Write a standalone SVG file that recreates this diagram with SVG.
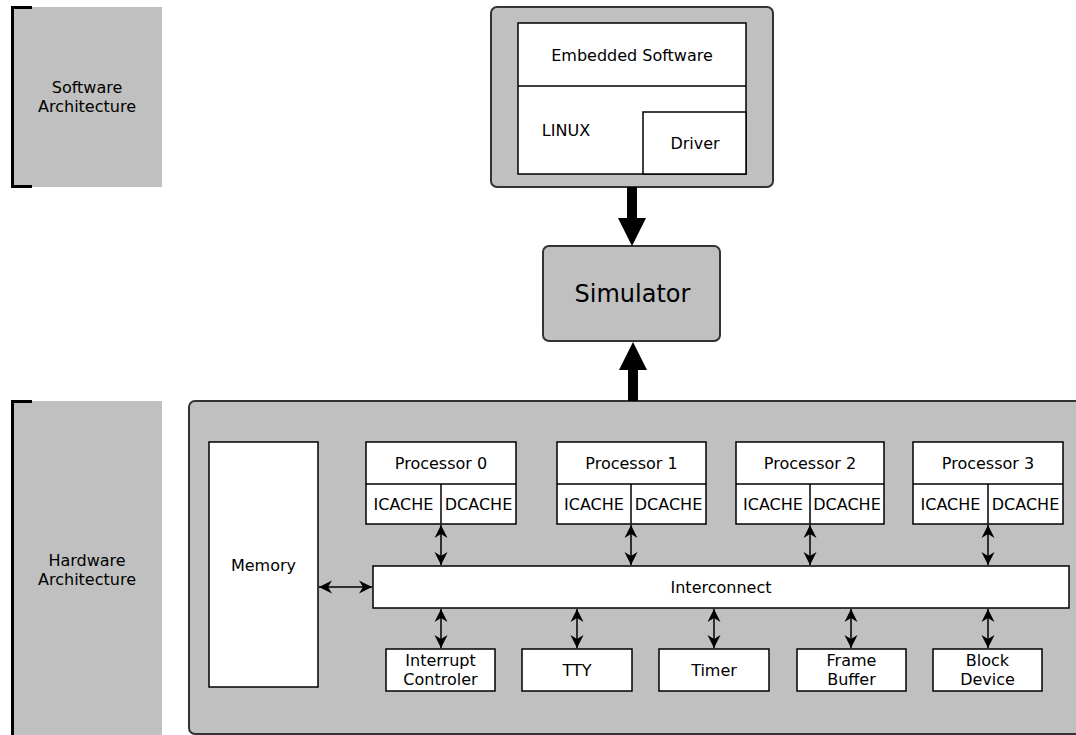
<svg xmlns="http://www.w3.org/2000/svg" width="1076" height="735" viewBox="0 0 1076 735">
<defs>
<style>
text{font-family:"DejaVu Sans","Liberation Sans",sans-serif;font-size:16px;fill:#000;text-anchor:middle}
.lbl{fill:#c0c0c0}
.bracket{fill:none;stroke:#000;stroke-width:3}
.outer{fill:#c0c0c0;stroke:#333;stroke-width:2}
.box{fill:#fff;stroke:#000;stroke-width:1.5}
.ln{fill:none;stroke:#000;stroke-width:1.5}
.conn{fill:none;stroke:#000;stroke-width:1.5;marker-start:url(#ah);marker-end:url(#ah)}
</style>
<marker id="ah" markerUnits="userSpaceOnUse" viewBox="-1 -8 16 16" refX="13" refY="0" markerWidth="16" markerHeight="16" orient="auto-start-reverse">
<path d="M0,-6.5 L13,0 L0,6.5 L4,0 Z" fill="#000"/>
</marker>
</defs>

<g id="sw-label">
<rect class="lbl" x="12" y="7" width="150" height="180"/>
<path class="bracket" d="M32,7.5 H12.5 V186.5 H32"/>
<text x="87" y="93">Software</text>
<text x="87" y="112">Architecture</text>
</g>

<g id="hw-label">
<rect class="lbl" x="12" y="401" width="150" height="340"/>
<path class="bracket" d="M32,401.5 H12.5 V740"/>
<text x="87" y="566">Hardware</text>
<text x="87" y="585">Architecture</text>
</g>

<g id="software">
<rect class="outer" x="491" y="7" width="282" height="180" rx="6"/>
<rect class="box" x="518" y="23" width="228" height="151"/>
<line class="ln" x1="518" y1="86" x2="746" y2="86"/>
<rect class="box" x="643" y="112" width="103" height="62"/>
<text x="632" y="61">Embedded Software</text>
<text x="566" y="136">LINUX</text>
<text x="695" y="149">Driver</text>
</g>

<g id="simulator">
<rect class="outer" x="543" y="246" width="177" height="95" rx="6"/>
<text x="632.5" y="302" style="font-size:24px">Simulator</text>
</g>

<g id="hardware">
<rect class="outer" x="189" y="401" width="900" height="333" rx="6"/>
</g>

<g id="memory">
<rect class="box" x="209" y="442" width="109" height="245"/>
<text x="263.5" y="571">Memory</text>
</g>

<g id="proc0">
<rect class="box" x="366" y="442" width="150" height="82"/>
<line class="ln" x1="366" y1="484" x2="516" y2="484"/>
<line class="ln" x1="441" y1="484" x2="441" y2="524"/>
<text x="441" y="469">Processor 0</text>
<text x="403.5" y="510">ICACHE</text>
<text x="478.5" y="510">DCACHE</text>
</g>
<g id="proc1">
<rect class="box" x="557" y="442" width="149" height="82"/>
<line class="ln" x1="557" y1="484" x2="706" y2="484"/>
<line class="ln" x1="631" y1="484" x2="631" y2="524"/>
<text x="631.5" y="469">Processor 1</text>
<text x="594" y="510">ICACHE</text>
<text x="668.5" y="510">DCACHE</text>
</g>
<g id="proc2">
<rect class="box" x="736" y="442" width="148" height="82"/>
<line class="ln" x1="736" y1="484" x2="884" y2="484"/>
<line class="ln" x1="810" y1="484" x2="810" y2="524"/>
<text x="810" y="469">Processor 2</text>
<text x="773" y="510">ICACHE</text>
<text x="847" y="510">DCACHE</text>
</g>
<g id="proc3">
<rect class="box" x="913" y="442" width="150" height="82"/>
<line class="ln" x1="913" y1="484" x2="1063" y2="484"/>
<line class="ln" x1="988" y1="484" x2="988" y2="524"/>
<text x="988" y="469">Processor 3</text>
<text x="950.5" y="510">ICACHE</text>
<text x="1025.5" y="510">DCACHE</text>
</g>

<g id="interconnect">
<rect class="box" x="373" y="566" width="696" height="42"/>
<text x="721" y="593">Interconnect</text>
</g>

<g id="irq">
<rect class="box" x="386" y="649" width="109" height="42"/>
<text x="440.5" y="666">Interrupt</text>
<text x="440.5" y="685">Controler</text>
</g>
<g id="tty">
<rect class="box" x="522" y="649" width="110" height="42"/>
<text x="577" y="676">TTY</text>
</g>
<g id="timer">
<rect class="box" x="659" y="649" width="110" height="42"/>
<text x="714" y="676">Timer</text>
</g>
<g id="framebuffer">
<rect class="box" x="797" y="649" width="109" height="42"/>
<text x="851.5" y="666">Frame</text>
<text x="851.5" y="685">Buffer</text>
</g>
<g id="blockdevice">
<rect class="box" x="933" y="649" width="109" height="42"/>
<text x="987.5" y="666">Block</text>
<text x="987.5" y="685">Device</text>
</g>

<g id="connectors">
<path d="M627,187 H637 V218 H646 L632,246 L618,218 H627 Z" fill="#000"/>
<path d="M628,401 H638 V370 H647 L633,342 L619,370 H628 Z" fill="#000"/>
<line class="conn" x1="319" y1="587" x2="372" y2="587"/>
<line class="conn" x1="441" y1="525" x2="441" y2="565"/>
<line class="conn" x1="631" y1="525" x2="631" y2="565"/>
<line class="conn" x1="810" y1="525" x2="810" y2="565"/>
<line class="conn" x1="988" y1="525" x2="988" y2="565"/>
<line class="conn" x1="441" y1="609" x2="441" y2="648"/>
<line class="conn" x1="577" y1="609" x2="577" y2="648"/>
<line class="conn" x1="714" y1="609" x2="714" y2="648"/>
<line class="conn" x1="851" y1="609" x2="851" y2="648"/>
<line class="conn" x1="988" y1="609" x2="988" y2="648"/>
</g>
</svg>
